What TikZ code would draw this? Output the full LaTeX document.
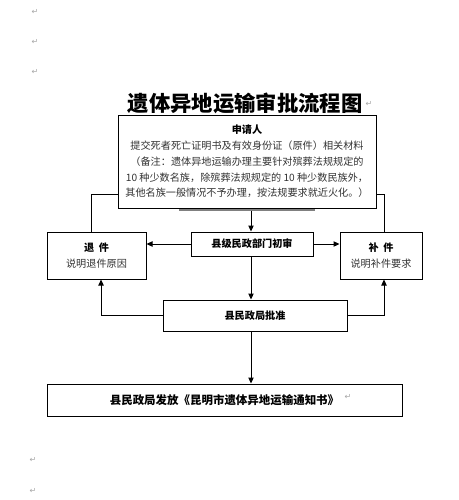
\documentclass[tikz,border=0pt]{standalone}
\usepackage{fontspec}
\newfontfamily\cjk{Noto Sans CJK SC}
\newfontfamily\symfont{DejaVu Sans}
\usetikzlibrary{arrows.meta}

\tikzset{every picture/.style={line width=0.75pt}}
\tikzset{
  flowbox/.style={draw, fill=white, inner sep=0pt, align=center, font=\cjk\fontsize{7.6}{11.8}\selectfont},
  arr/.style={-{Triangle[length=4.5pt,width=4pt]}},
  retmark/.style={text=gray!70, font=\symfont\fontsize{6}{6}\selectfont, inner sep=0pt}
}

\begin{document}
\begin{tikzpicture}[x=0.75pt,y=0.75pt,yscale=-1,xscale=1]
\useasboundingbox (0,0) rectangle (459,500);

% title
\node (title) at (245,103) [font=\cjk\bfseries\fontsize{16}{16}\selectfont] {遗体异地运输审批流程图};

% box behind the applicant box
\node (hid) at (247,195) [draw=gray, line width=1.2pt, fill=white, minimum width=100.5pt, minimum height=22.5pt] {};
% applicant
\node (app) at (247,161.5) [flowbox, minimum width=193.5pt, minimum height=69.75pt]
  {{\bfseries 申请人}\\
   \color{black!80}提交死者死亡证明书及有效身份证（原件）相关材料\\
   \color{black!80}（备注：遗体异地运输办理主要针对殡葬法规规定的\\
   \color{black!80}10 种少数名族，除殡葬法规规定的 10 种少数民族外，\\
   \color{black!80}其他名族一般情况不予办理，按法规要求就近火化。）};

% first check
\node (chk) at (252,244) [flowbox, font=\cjk\bfseries\fontsize{7.6}{11.8}\selectfont, minimum width=91.5pt, minimum height=18pt] {县级民政部门初审};
% returned / supplement
\node (back) at (96.5,255.5) [flowbox, minimum width=74.25pt, minimum height=35.25pt]
  {{\bfseries 退\ \ 件}\\ \color{black!80}说明退件原因};
\node (supp) at (381,255.5) [flowbox, minimum width=61.5pt, minimum height=35.25pt]
  {{\bfseries 补\ \ 件}\\ \color{black!80}说明补件要求};
% approval
\node (appr) at (255,315.5) [flowbox, font=\cjk\bfseries\fontsize{7.6}{11.8}\selectfont, minimum width=138pt, minimum height=23.25pt] {县民政局批准};
% notice
\node (issue) at (224.5,400) [flowbox, font=\cjk\bfseries\fontsize{8.6}{11.8}\selectfont, minimum width=266.25pt, minimum height=24pt] {县民政局发放《昆明市遗体异地运输通知书》};

% connectors
\draw [arr] (hid.south -| 251,0) -- (chk.north -| 251,0);
\draw [arr] (chk.west) -- (chk.west -| back.east);
\draw [arr] (chk.east) -- (chk.east -| supp.west);
\draw [arr] (chk.south -| 251,0) -- (appr.north -| 251,0);
\draw [arr] (appr.south -| 251,0) -- (issue.north -| 251,0);
\draw [arr] (appr.west) -| ([xshift=3.4pt]back.south);
\draw [arr] (appr.east) -| ([xshift=2.25pt]supp.south);
\draw ([xshift=-3.4pt]back.north) |- ([yshift=-10.5pt]app.south west);
\draw ([xshift=2.25pt]supp.north) |- ([yshift=-10.5pt]app.south east);

% paragraph marks
\node (r1) at (35,12) [retmark] {↵};
\node (r2) at (35,42) [retmark] {↵};
\node (r3) at (35,72) [retmark] {↵};
\node (r4) at (369,104) [retmark] {↵};
\node (r5) at (348,397) [retmark] {↵};
\node (r6) at (33,460) [retmark] {↵};
\node (r7) at (33,491) [retmark] {↵};
\end{tikzpicture}
\end{document}
